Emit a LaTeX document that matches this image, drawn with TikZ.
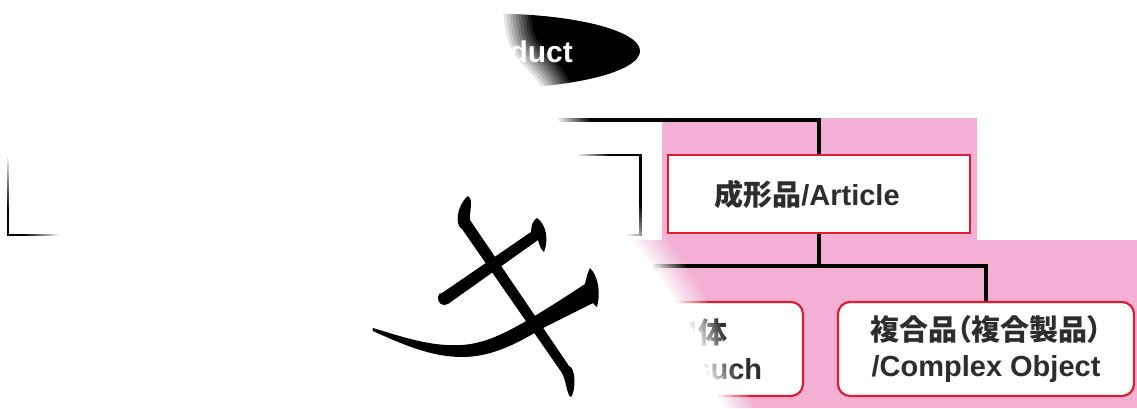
\documentclass[tikz,border=0pt]{standalone}
\usepackage{fontspec}
\setmainfont{Liberation Sans}
\newfontfamily\cjk[RawFeature=+palt]{Noto Sans CJK JP}
\usetikzlibrary{shapes.geometric}
\definecolor{pinkbg}{RGB}{243,176,212}
\definecolor{boxred}{RGB}{222,28,52}
\definecolor{txt}{RGB}{45,45,45}
\tikzset{
  conn/.style={line width=3.5pt, draw=black},
  lvlbox/.style={draw=black, line width=2.2pt, fill=white, minimum width=303pt, minimum height=80pt, inner sep=0pt},
  artbox/.style={draw=boxred, line width=2.2pt, fill=white, minimum width=302pt, minimum height=78pt, inner sep=0pt,
    font=\fontsize{29}{36}\selectfont\bfseries, text=txt},
  leafbox/.style={draw=boxred, line width=2.2pt, fill=white, rounded corners=12pt, minimum width=296pt, minimum height=94pt,
    inner sep=0pt, align=center, font=\fontsize{29}{36}\selectfont\bfseries, text=txt},
  prodnode/.style={ellipse, fill=black, minimum width=302pt, minimum height=75pt, inner sep=0pt, text=white,
    font=\fontsize{30}{36}\selectfont\bfseries},
  fadestroke/.style={draw=white, line join=round, rounded corners=14pt},
  fadecore/.style={fill=white, rounded corners=14pt},
  glyph/.style={fill=black}
}
\begin{document}
\begin{tikzpicture}[x=1pt,y=-1pt]
\useasboundingbox (0,0) rectangle (1137,408);
% pink backgrounds
\fill[pinkbg] (662,118) rectangle (977,241);
\fill[pinkbg] (490,240) rectangle (1137,408);
% nodes
\node[prodnode] (prod) at (489,51) {{\cjk 製品}/Product\hspace*{14pt}};
\node[lvlbox] (subst) at (159.5,195) {};
\node[lvlbox] (mix) at (489,195) {};
\node[artbox] (art) at (819,194) {{\cjk 成形品}/Article\hspace*{24pt}};
\node[leafbox] (such) at (655,349) {{\cjk 成形品自体}\\/Article as such};
\node[leafbox] (cplx) at (986,349) {{\cjk 複合品（複合製品）}\\/Complex Object};
% connectors
\coordinate (bus1) at (0,120);
\coordinate (bus2) at (0,266);
\draw[conn] (prod.south) -- (mix.north);
\draw[conn] (subst.north) -- (subst.north |- bus1) -- (art.north |- bus1) -- (art.north);
\draw[conn] (art.south) -- (art.south |- bus2);
\draw[conn] (such.north) -- (such.north |- bus2) -- (cplx.north |- bus2) -- (cplx.north);
% soft white veil: linear fade over 30pt outside the opaque core
\foreach \j in {1,...,10} {
  \pgfmathsetmacro\op{1/\j}
  \pgfmathsetmacro\lw{6*\j}
  \draw[fadestroke, opacity=\op, line width=\lw pt] (-20,110) -- (190,-20) -- (497,-20) -- (500,14) -- (506,50) -- (540,88) -- (555,120) -- (575,155) -- (598,200) -- (626,238) -- (650,266) -- (672,300) -- (693,335) -- (702,370) -- (714,395) -- (730,420) -- (160,420) -- (75,255) -- cycle;
}
\fill[fadecore] (-20,110) -- (190,-20) -- (497,-20) -- (500,14) -- (506,50) -- (540,88) -- (555,120) -- (575,155) -- (598,200) -- (626,238) -- (650,266) -- (672,300) -- (693,335) -- (702,370) -- (714,395) -- (730,420) -- (160,420) -- (75,255) -- cycle;
% large brush glyph
\fill[glyph] (468,196) .. controls (474,200) and (469,212) .. (470,220) -- (569,366)
  .. controls (576,368) and (576,390) .. (571,397) .. controls (567,396) and (566,380) .. (562,373)
  -- (462,229) .. controls (455,226) and (456,206) .. (468,196) -- cycle;
\fill[glyph] (442,293) -- (531,232) .. controls (531,226) and (533,220) .. (537,218)
  .. controls (546,224) and (549,240) .. (544,252) .. controls (541,250) and (539,244) .. (538,240)
  -- (448,304) .. controls (443,307) and (437,303) .. (438,297) .. controls (438,294) and (440,293) .. (442,293) -- cycle;
\fill[glyph] (373,328) .. controls (400,336) and (430,347) .. (462,345) .. controls (490,343) and (515,330) .. (585,284)
  .. controls (586,278) and (588,272) .. (590,268) .. controls (598,276) and (601,292) .. (597,307)
  .. controls (595,306) and (594,304) .. (593,303) -- (541,329) .. controls (515,345) and (490,357) .. (462,357)
  .. controls (430,357) and (400,343) .. (375,332) .. controls (372,331) and (372,329) .. (373,328) -- cycle;
\end{tikzpicture}
\end{document}
